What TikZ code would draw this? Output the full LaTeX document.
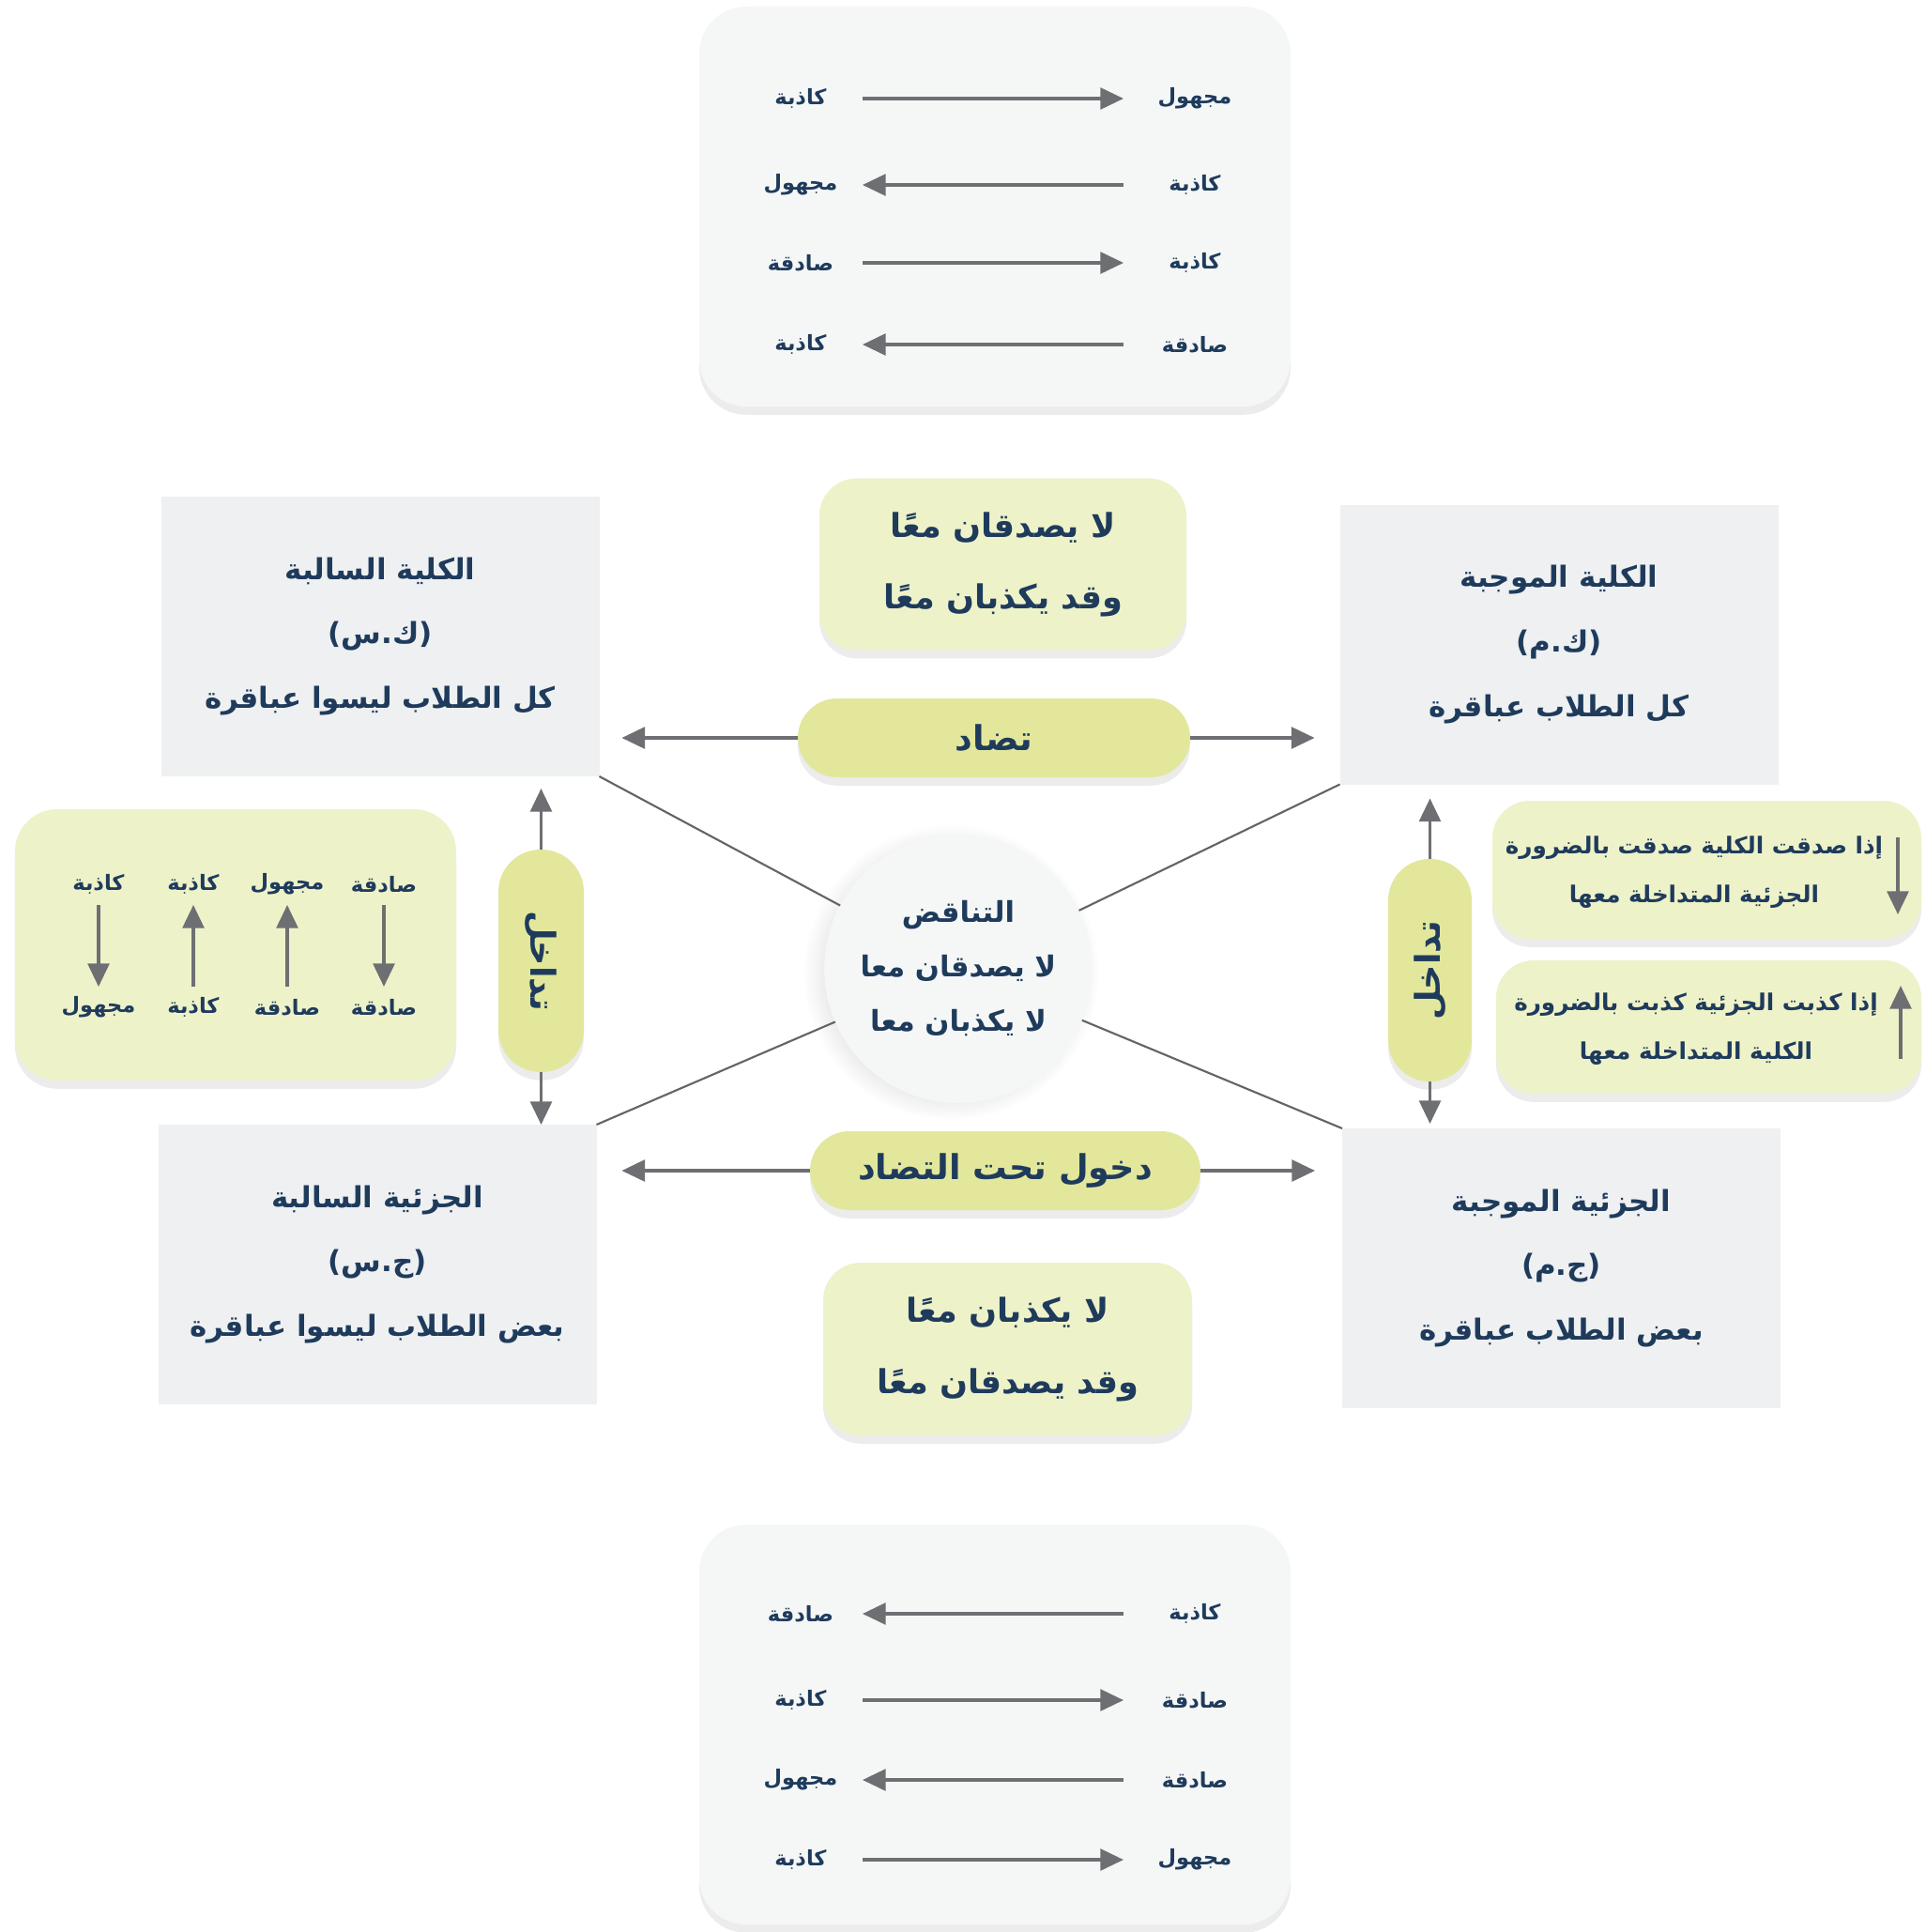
\documentclass[tikz,border=0pt]{standalone}
\usepackage{fontspec}
\newfontfamily\arabicfont[Script=Arabic]{DejaVu Sans}
\TeXXeTstate=1
\usetikzlibrary{arrows.meta,shadows}

\definecolor{txtblue}{HTML}{1F3B5C}
\definecolor{boxgray}{HTML}{EEF0F1}
\definecolor{panelgray}{HTML}{F5F7F7}
\definecolor{pillgreen}{HTML}{E2E79C}
\definecolor{palegreen}{HTML}{EEF2C9}
\definecolor{arrowgray}{HTML}{6E6F72}

\newcommand{\artxt}[1]{\beginR #1\endR}

\tikzset{
  every node/.style={text=txtblue, outer sep=0pt},
  arr/.style={draw=arrowgray, line width=0.9pt, -{Triangle[length=7pt,width=6.5pt]}},
  diag/.style={draw=arrowgray!90!black, line width=0.6pt},
  softshadow/.style={drop shadow={shadow xshift=0pt, shadow yshift=-2.5pt, opacity=0.1, fill=black!70}},
  corner/.style={fill=boxgray, minimum width=4.67cm, minimum height=2.98cm, align=center,
    font=\arabicfont\bfseries\fontsize{8.8}{19.5}\selectfont},
  panel/.style={fill=panelgray, rounded corners=0.5cm, minimum width=6.3cm, minimum height=4.26cm, softshadow},
  lbl/.style={font=\arabicfont\bfseries\fontsize{6.4}{8}\selectfont, inner sep=0pt},
  pill/.style={fill=pillgreen, rounded corners=0.42cm, minimum height=0.84cm, softshadow,
    font=\arabicfont\bfseries\fontsize{10.4}{13}\selectfont},
  note/.style={fill=palegreen, rounded corners=0.4cm, align=center, softshadow,
    font=\arabicfont\bfseries\fontsize{10}{21.6}\selectfont},
  rule/.style={fill=palegreen, rounded corners=0.4cm, softshadow},
}

\begin{document}
\begin{tikzpicture}
\path[use as bounding box, fill=white] (0,0) rectangle (20.51,-20.58);

% top panel
\node[panel] (topP) at (10.60,-2.20) {};
\node[lbl, minimum width=1.32cm] (t1l) at (8.53,-1.05) {\artxt{كاذبة}};
\node[lbl, minimum width=1.52cm] (t1r) at (12.73,-1.05) {\artxt{مجهول}};
\node[lbl, minimum width=1.32cm] (t2l) at (8.53,-1.97) {\artxt{مجهول}};
\node[lbl, minimum width=1.52cm] (t2r) at (12.73,-1.97) {\artxt{كاذبة}};
\node[lbl, minimum width=1.32cm] (t3l) at (8.53,-2.80) {\artxt{صادقة}};
\node[lbl, minimum width=1.52cm] (t3r) at (12.73,-2.80) {\artxt{كاذبة}};
\node[lbl, minimum width=1.32cm] (t4l) at (8.53,-3.67) {\artxt{كاذبة}};
\node[lbl, minimum width=1.52cm] (t4r) at (12.73,-3.67) {\artxt{صادقة}};
\draw[arr] (t1l) -- (t1r);
\draw[arr] (t2r) -- (t2l);
\draw[arr] (t3l) -- (t3r);
\draw[arr] (t4r) -- (t4l);

% bottom panel
\node[panel] (botP) at (10.60,-18.37) {};
\node[lbl, minimum width=1.32cm] (b1l) at (8.53,-17.19) {\artxt{صادقة}};
\node[lbl, minimum width=1.52cm] (b1r) at (12.73,-17.19) {\artxt{كاذبة}};
\node[lbl, minimum width=1.32cm] (b2l) at (8.53,-18.11) {\artxt{كاذبة}};
\node[lbl, minimum width=1.52cm] (b2r) at (12.73,-18.11) {\artxt{صادقة}};
\node[lbl, minimum width=1.32cm] (b3l) at (8.53,-18.96) {\artxt{مجهول}};
\node[lbl, minimum width=1.52cm] (b3r) at (12.73,-18.96) {\artxt{صادقة}};
\node[lbl, minimum width=1.32cm] (b4l) at (8.53,-19.81) {\artxt{كاذبة}};
\node[lbl, minimum width=1.52cm] (b4r) at (12.73,-19.81) {\artxt{مجهول}};
\draw[arr] (b1r) -- (b1l);
\draw[arr] (b2l) -- (b2r);
\draw[arr] (b3r) -- (b3l);
\draw[arr] (b4l) -- (b4r);

% the four propositions
\node[corner] (kS) at (4.05,-6.78) {\artxt{الكلية السالبة}\\\artxt{(ك.س)}\\\artxt{كل الطلاب ليسوا عباقرة}};
\node[corner] (kM) at (16.61,-6.865) {\artxt{الكلية الموجبة}\\\artxt{(ك.م)}\\\artxt{كل الطلاب عباقرة}};
\node[corner] (jS) at (4.02,-13.47) {\artxt{الجزئية السالبة}\\\artxt{(ج.س)}\\\artxt{بعض الطلاب ليسوا عباقرة}};
\node[corner] (jM) at (16.635,-13.51) {\artxt{الجزئية الموجبة}\\\artxt{(ج.م)}\\\artxt{بعض الطلاب عباقرة}};

% contradiction in the middle
\node[circle, fill=panelgray, minimum size=2.6cm, align=center, font=\arabicfont\bfseries\fontsize{8.7}{16.5}\selectfont,
  circular drop shadow={shadow xshift=-2pt, shadow yshift=-1pt, opacity=0.12, fill=black!60}] (naqd) at (10.21,-10.32)
  {\artxt{التناقض}\\\artxt{لا يصدقان معا}\\\artxt{لا يكذبان معا}};
\draw[diag] (kS.south east) -- (naqd);
\draw[diag] (kM.south west) -- (naqd);
\draw[diag] (jS.north east) -- (naqd);
\draw[diag] (jM.north west) -- (naqd);

% contrariety
\node[note, minimum width=3.91cm, minimum height=1.83cm] (tadadN) at (10.685,-6.01) {\artxt{لا يصدقان معًا}\\\artxt{وقد يكذبان معًا}};
\node[pill, minimum width=4.18cm] (tadad) at (10.59,-7.86) {\artxt{تضاد}};
\draw[arr, shorten >=0.24cm] (tadad) -- (tadad -| kS.east);
\draw[arr, shorten >=0.27cm] (tadad) -- (tadad -| kM.west);

% subcontrariety
\node[pill, minimum width=4.16cm] (dukhul) at (10.71,-12.47) {\artxt{دخول تحت التضاد}};
\node[note, minimum width=3.93cm, minimum height=1.84cm] (dukhulN) at (10.735,-14.37) {\artxt{لا يكذبان معًا}\\\artxt{وقد يصدقان معًا}};
\draw[arr, shorten >=0.27cm] (dukhul) -- (dukhul -| jS.east);
\draw[arr, shorten >=0.29cm] (dukhul) -- (dukhul -| jM.west);

% subalternation, left
\node[pill, rotate=-90, minimum width=2.37cm, minimum height=0.91cm, rounded corners=0.45cm] (tdL) at (5.765,-10.235) {\artxt{تداخل}};
\draw[arr, shorten >=0.13cm] (tdL) -- (tdL |- kS.south);
\draw[arr] (tdL) -- (tdL |- jS.north);
\node[rule, minimum width=4.70cm, minimum height=2.89cm, rounded corners=0.45cm] (tbl) at (2.51,-10.065) {};
\node[lbl, minimum height=0.44cm] (c1t) at (4.09,-9.42) {\artxt{صادقة}};
\node[lbl, minimum height=0.44cm] (c1b) at (4.09,-10.73) {\artxt{صادقة}};
\node[lbl, minimum height=0.44cm] (c2t) at (3.06,-9.42) {\artxt{مجهول}};
\node[lbl, minimum height=0.44cm] (c2b) at (3.06,-10.73) {\artxt{صادقة}};
\node[lbl, minimum height=0.44cm] (c3t) at (2.06,-9.42) {\artxt{كاذبة}};
\node[lbl, minimum height=0.44cm] (c3b) at (2.06,-10.73) {\artxt{كاذبة}};
\node[lbl, minimum height=0.44cm] (c4t) at (1.05,-9.42) {\artxt{كاذبة}};
\node[lbl, minimum height=0.44cm] (c4b) at (1.05,-10.73) {\artxt{مجهول}};
\draw[arr] (c1t) -- (c1b);
\draw[arr] (c2b) -- (c2t);
\draw[arr] (c3b) -- (c3t);
\draw[arr] (c4t) -- (c4b);

% subalternation, right
\node[pill, rotate=90, minimum width=2.37cm, minimum height=0.89cm, rounded corners=0.44cm] (tdR) at (15.235,-10.335) {\artxt{تداخل}};
\draw[arr, shorten >=0.15cm] (tdR) -- (tdR |- kM.south);
\draw[arr, shorten >=0.05cm] (tdR) -- (tdR |- jM.north);
\node[rule, minimum width=4.57cm, minimum height=1.47cm] (ifT) at (18.185,-9.265) {};
\node[align=center, font=\arabicfont\bfseries\fontsize{7}{14.8}\selectfont] (ifTtxt) at (18.05,-9.29)
  {\artxt{إذا صدقت الكلية صدقت بالضرورة}\\\artxt{الجزئية المتداخلة معها}};
\coordinate (ifTa) at (20.22,-8.92);
\coordinate (ifTb) at (20.22,-9.74);
\draw[arr] (ifTa) -- (ifTb);
\node[rule, minimum width=4.53cm, minimum height=1.42cm] (ifF) at (18.205,-10.94) {};
\node[align=center, font=\arabicfont\bfseries\fontsize{7}{14.8}\selectfont] (ifFtxt) at (18.07,-10.965)
  {\artxt{إذا كذبت الجزئية كذبت بالضرورة}\\\artxt{الكلية المتداخلة معها}};
\coordinate (ifFa) at (20.25,-11.28);
\coordinate (ifFb) at (20.25,-10.50);
\draw[arr] (ifFa) -- (ifFb);
\end{tikzpicture}
\end{document}
